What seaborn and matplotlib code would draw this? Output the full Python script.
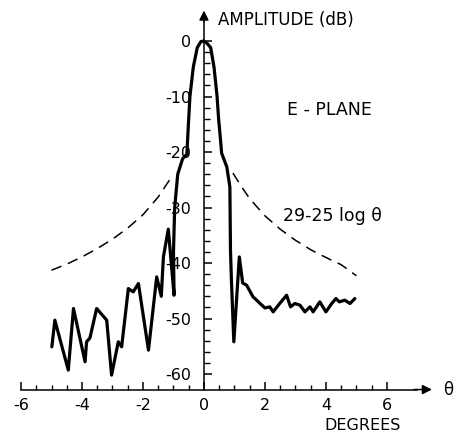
import numpy as np
import pandas as pd
import matplotlib
matplotlib.use("Agg")
import matplotlib.pyplot as plt
import seaborn as sns

theta_deg = [-4.99, -4.89, -4.45, -4.28, -3.90, -3.85, -3.74, -3.52, -3.19, -3.03,
             -2.81, -2.70, -2.48, -2.32, -2.15, -1.82, -1.55, -1.40, -1.33, -1.17,
             -0.98, -1.00, -0.96, -0.86, -0.70, -0.56, -0.52, -0.46, -0.35, -0.22,
             -0.10, 0.00, 0.10, 0.22, 0.33, 0.43, 0.48, 0.53, 0.58, 0.75,
             0.85, 0.87, 0.90, 0.98, 1.16, 1.27, 1.40, 1.61, 1.73, 1.84,
             2.00, 2.16, 2.27, 2.44, 2.71, 2.84, 2.98, 3.15, 3.31, 3.48,
             3.58, 3.80, 4.00, 4.19, 4.33, 4.44, 4.62, 4.79, 4.95]
amp_db = [-55.1, -50.3, -59.3, -48.2, -57.8, -54.2, -53.5, -48.2, -50.3, -60.2,
          -54.2, -55.1, -44.6, -45.2, -43.7, -55.7, -42.5, -46.0, -38.9, -33.9,
          -45.8, -38.0, -30.0, -24.0, -21.2, -20.4, -16.0, -10.0, -4.7, -1.2,
          -0.1, 0.0, -0.4, -1.2, -4.7, -10.0, -14.0, -17.0, -20.2, -22.7,
          -26.3, -37.7, -43.0, -54.2, -38.9, -43.6, -44.0, -46.1, -46.7, -47.3,
          -48.1, -47.9, -48.8, -47.6, -45.8, -47.9, -47.3, -47.6, -48.8, -47.9,
          -48.8, -47.0, -48.8, -47.3, -46.4, -47.0, -46.7, -47.3, -46.4]

# 29-25 log theta envelope
env_left_theta = [-5.0, -4.5, -4.0, -3.5, -3.0, -2.5, -2.0, -1.5, -1.1]
env_left_db = [-41.3, -40.2, -38.9, -37.4, -35.7, -33.7, -31.3, -28.1, -24.8]
env_right_theta = [0.95, 1.25, 1.5, 2.0, 2.5, 3.0, 3.5, 4.0, 4.5, 5.0]
env_right_db = [-23.8, -26.4, -28.4, -31.5, -33.9, -35.9, -37.6, -39.0, -40.3, -42.3]

y_ticks = [0, -10, -20, -30, -40, -50, -60]
x_ticks = [-6, -4, -2, 0, 2, 4, 6]

sns.set_style("white")
plt.rcParams["font.family"] = ["DejaVu Sans"]
plt.rcParams["axes.unicode_minus"] = False
plt.rcParams["text.color"] = "black"
plt.rcParams["xtick.color"] = "black"
plt.rcParams["ytick.color"] = "black"

fig = plt.figure(figsize=(4.57, 4.37), dpi=100)
ax = fig.add_axes([0, 0, 1, 1])
ax.set_xlim(-6.69, 8.30)
ax.set_ylim(-71.35, 7.39)

pattern = pd.DataFrame({"theta": theta_deg, "amp": amp_db})
sns.lineplot(data=pattern, x="theta", y="amp", sort=False, estimator=None,
             color="black", lw=2.3, ax=ax)

env = pd.DataFrame({
    "theta": env_left_theta + env_right_theta,
    "amp": env_left_db + env_right_db,
    "side": ["L"] * len(env_left_theta) + ["R"] * len(env_right_theta),
})
sns.lineplot(data=env, x="theta", y="amp", units="side", estimator=None,
             color="black", lw=1.1, dashes=False, ax=ax)
for ln in ax.lines[1:]:
    ln.set_dashes((7, 4.5))

# axes through the origin, like the hand drawn original
x_axis_y = -62.8
for s in ["top", "right"]:
    ax.spines[s].set_visible(False)
ax.spines["left"].set_position(("data", 0))
ax.spines["bottom"].set_position(("data", x_axis_y))
ax.spines["left"].set_bounds(x_axis_y, 4.0)
ax.spines["bottom"].set_bounds(-6, 7.0)
for s in ["left", "bottom"]:
    ax.spines[s].set_linewidth(1.1)
    ax.spines[s].set_color("black")

ax.set_yticks(y_ticks, [str(v) for v in y_ticks])
ax.set_yticks([v for v in range(-60, 1, 2) if v % 10], minor=True)
ax.set_xticks(x_ticks, [str(v) for v in x_ticks])
ax.set_xticks([v / 2 for v in range(-12, 13) if v % 4], minor=True)
ax.tick_params(axis="y", which="both", left=True, color="black", labelcolor="black")
ax.tick_params(axis="x", which="both", bottom=True, color="black", labelcolor="black")
ax.tick_params(axis="y", which="major", direction="in", length=6, width=1.1,
               pad=9, labelsize=11.5)
ax.tick_params(axis="y", which="minor", direction="in", length=4, width=1.0)
ax.tick_params(axis="x", which="major", direction="in", length=6, width=1.1,
               pad=6, labelsize=11.5)
ax.tick_params(axis="x", which="minor", direction="in", length=3.5, width=1.0)
ax.set_xlabel("")
ax.set_ylabel("")

arrow = dict(arrowstyle="-|>", color="black", lw=1.1, mutation_scale=14)
ax.annotate("", xy=(0, 6.0), xytext=(0, 3.0), arrowprops=arrow)
ax.annotate("", xy=(7.57, x_axis_y), xytext=(6.8, x_axis_y), arrowprops=arrow)

ax.text(0.45, 3.8, "AMPLITUDE (dB)", fontsize=12, ha="left", va="center")
ax.text(4.1, -12.5, "E - PLANE", fontsize=12.5, ha="center", va="center")
ax.text(4.2, -31.5, "29-25 log θ", fontsize=12.5, ha="center", va="center")
ax.text(7.85, x_axis_y, "θ", fontsize=12, ha="left", va="center")
ax.text(5.2, -69.3, "DEGREES", fontsize=11.5, ha="center", va="center")

fig.savefig("out.png", dpi=100)
